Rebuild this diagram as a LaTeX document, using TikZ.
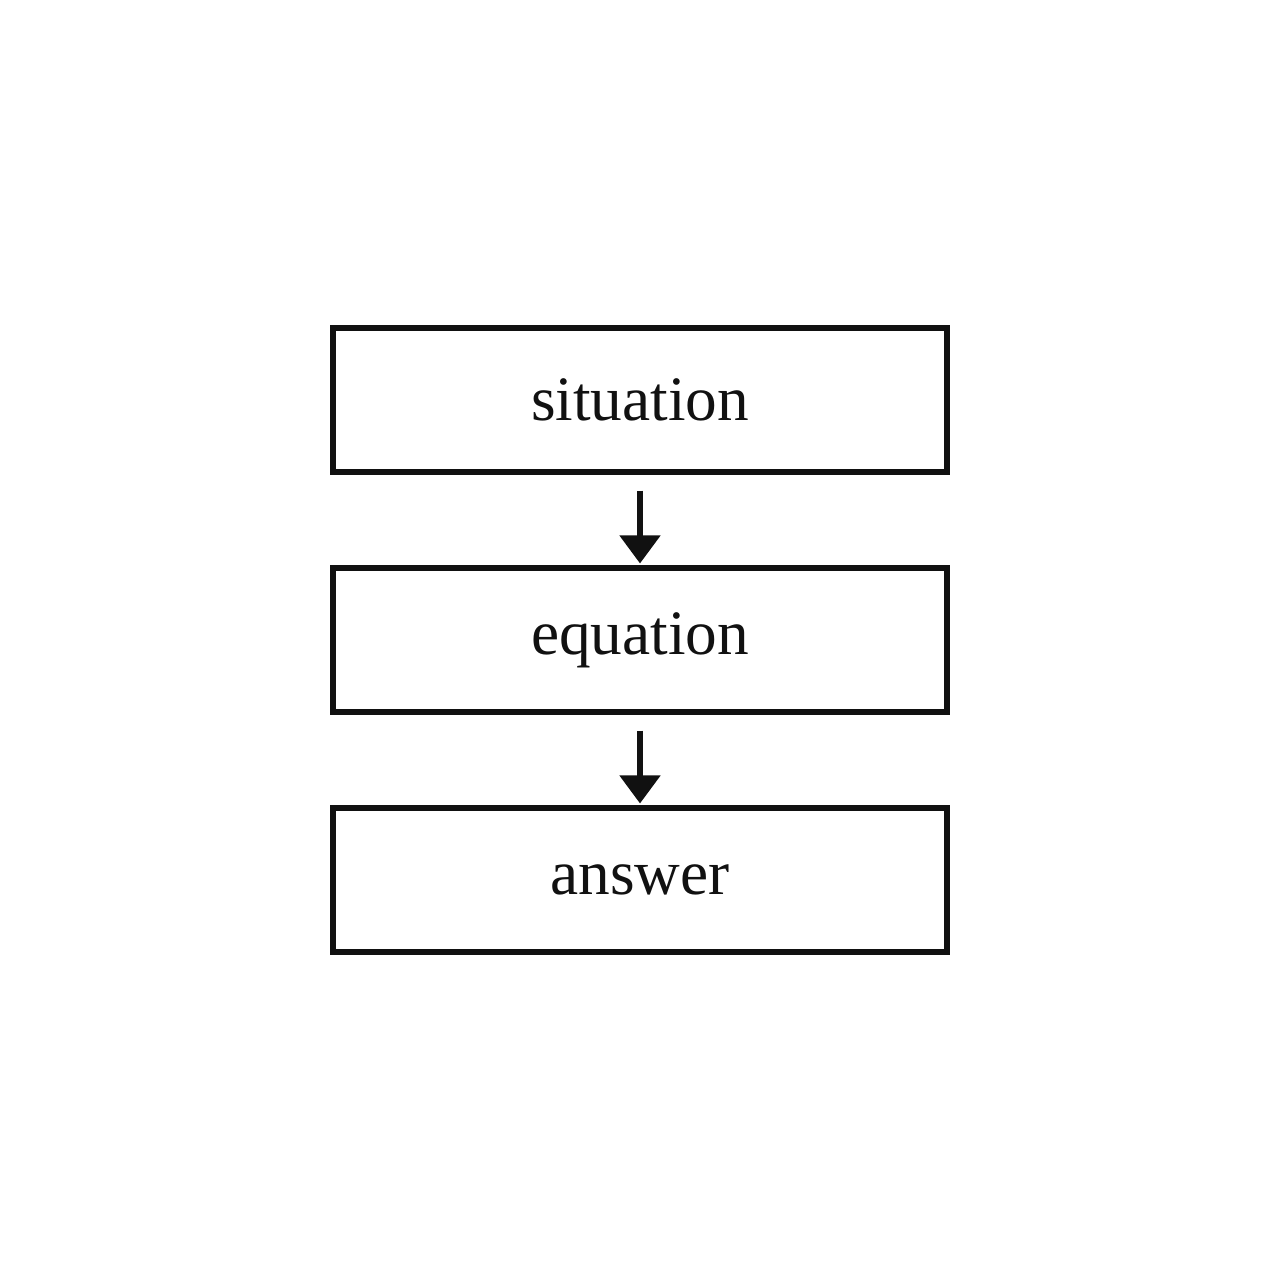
\documentclass[tikz,border=0pt]{standalone}
\usepackage{fontspec}
\setmainfont{Liberation Serif}
\usetikzlibrary{arrows.meta}
\definecolor{ink}{HTML}{111111}
\begin{document}
\begin{tikzpicture}

\tikzstyle{stagebox}=[rectangle, draw=ink, line width=1.45pt, minimum width=6.14cm, minimum height=1.44cm, text=ink, font=\fontsize{18}{22}\selectfont]
\tikzstyle{arrow}=[-{Triangle[length=2.8mm,width=4mm]}, draw=ink, line width=1.45pt, shorten <=0.16cm, shorten >=0.02cm]

\useasboundingbox (-6.4,-6.4) rectangle (6.4,6.4);

\node (S) [stagebox] at (0, 2.4)  {situation};

\node (E) [stagebox] at (0, 0)    {equation};

\node (A) [stagebox] at (0, -2.4) {answer};


\draw [arrow] (S) -- (E);
\draw [arrow] (E) -- (A);

\end{tikzpicture}
\end{document}
